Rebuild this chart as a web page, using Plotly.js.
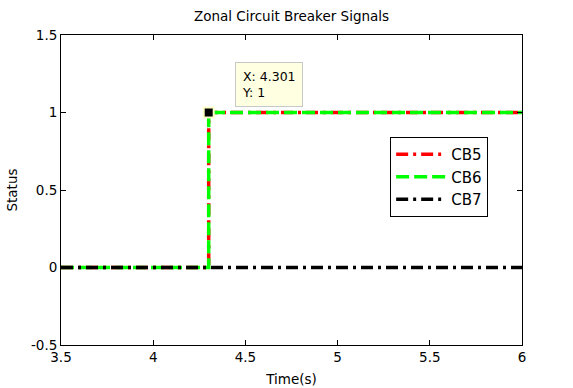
<!DOCTYPE html>
<html>
<head>
<meta charset="utf-8">
<script src="https://cdn.plot.ly/plotly-3.0.1.min.js"></script>
<style>html,body{margin:0;padding:0;background:#fff;}</style>
</head>
<body>
<div id="chart" style="width:573px;height:388px;"></div>
<script>
// Data
const time = [3.5, 4.301, 4.301, 6];
const cb5 = [0, 0, 1, 1];
const cb6 = [0, 0, 1, 1];
const cb7x = [3.5, 6];
const cb7 = [0, 0];
const tipX = [4.301];
const tipY = [1];
const xTicks = [3.5, 4, 4.5, 5, 5.5, 6];
const xTickText = ['3.5', '4', '4.5', '5', '5.5', '6'];
const yTicks = [-0.5, 0, 0.5, 1, 1.5];
const yTickText = ['-0.5', '0', '0.5', '1', '1.5'];

const FONT = 'DejaVu Sans, Arial, sans-serif';

const traces = [
  {x: time, y: cb5, name: 'CB5', mode: 'lines',
   line: {color: '#ff0000', width: 3.5, dash: '12px,5px,3px,5px'}},
  {x: time, y: cb6, name: 'CB6', mode: 'lines',
   line: {color: '#00ff00', width: 3.5, dash: '13px,5px'}},
  {x: cb7x, y: cb7, name: 'CB7', mode: 'lines',
   line: {color: '#000000', width: 3.5, dash: '12px,5px,3px,5px'}},
  {x: tipX, y: tipY, mode: 'markers', showlegend: false, hoverinfo: 'skip',
   marker: {symbol: 'square', size: 10, color: '#000000', line: {color: '#ffffc8', width: 2}}}
];

const axisBase = {
  showline: true, linecolor: '#000', linewidth: 1, mirror: 'ticks',
  ticks: 'inside', ticklen: 5, tickcolor: '#000', showgrid: false, zeroline: false,
  tickfont: {family: FONT, size: 13.5, color: '#000'}
};

const layout = {
  width: 573, height: 388,
  margin: {l: 61, r: 51, t: 35, b: 43},
  paper_bgcolor: '#fff', plot_bgcolor: '#fff',
  font: {family: FONT, color: '#000'},
  title: {text: 'Zonal Circuit Breaker Signals', font: {family: FONT, size: 13.5, color: '#000'},
          x: 0.5, xanchor: 'center', y: 0.958, yanchor: 'middle', xref: 'paper'},
  xaxis: Object.assign({}, axisBase, {
    range: [3.5, 6], tickvals: xTicks, ticktext: xTickText,
    title: {text: 'Time(s)', font: {family: FONT, size: 13.5}, standoff: 10}
  }),
  yaxis: Object.assign({}, axisBase, {
    range: [-0.5, 1.5], tickvals: yTicks, ticktext: yTickText,
    title: {text: 'Status', font: {family: FONT, size: 13.5}, standoff: 10}
  }),
  legend: {x: 0.714, y: 0.671, xanchor: 'left', yanchor: 'top',
           bordercolor: '#000', borderwidth: 1, bgcolor: '#fff',
           itemwidth: 50,
           font: {family: FONT, size: 15, color: '#000'}},
  annotations: [{
    x: tipX[0], y: tipY[0], xref: 'x', yref: 'y', showarrow: false,
    text: 'X: 4.301<br>Y: 1', align: 'left', xanchor: 'left', yanchor: 'bottom',
    xshift: 26, yshift: 6, bgcolor: '#ffffe1', bordercolor: '#c8c8c8', borderwidth: 1,
    borderpad: 6, font: {family: FONT, size: 12.5, color: '#000'}
  }]
};

Plotly.newPlot('chart', traces, layout, {displayModeBar: false, staticPlot: true});
</script>
</body>
</html>
